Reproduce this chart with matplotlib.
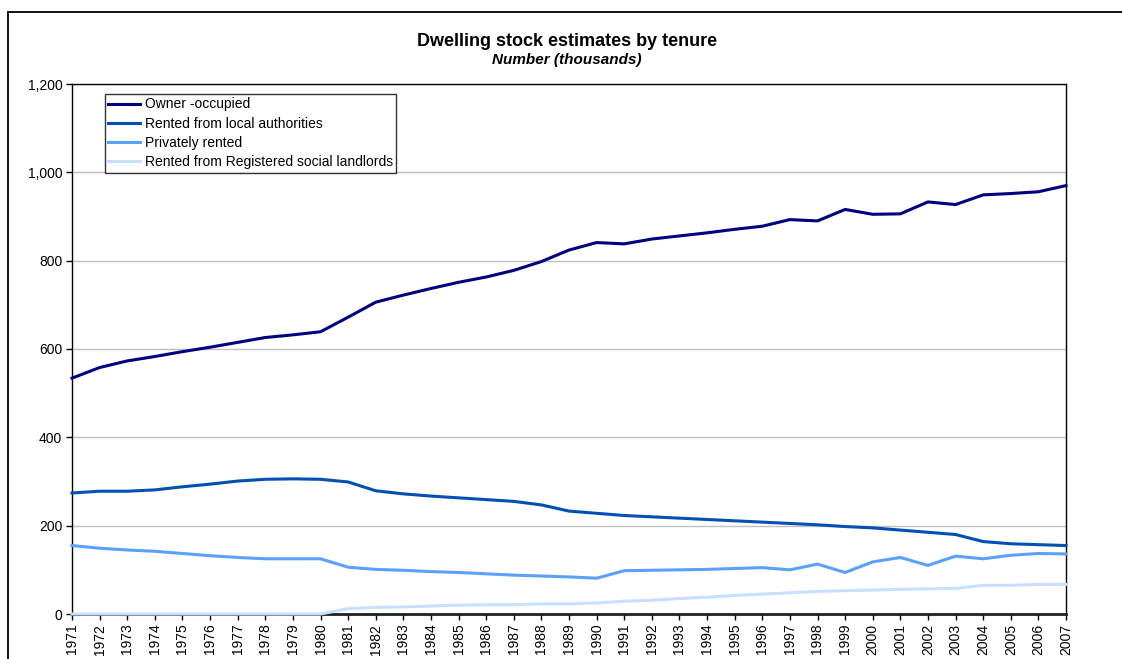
import matplotlib
matplotlib.use("Agg")
import matplotlib.pyplot as plt
from matplotlib.patches import Rectangle
from matplotlib.ticker import FuncFormatter

plt.rcParams['font.family'] = ['Liberation Sans', 'DejaVu Sans']

years = list(range(1971, 2008))

owner = [534, 558, 573, 583, 594, 604, 615, 626, 632, 639,
         672, 706, 722, 737, 751, 763, 778, 798, 824, 841,
         838, 849, 856, 863, 871, 878, 893, 890, 916, 905,
         906, 933, 927, 949, 952, 956, 970]
local_auth = [274, 278, 278, 281, 288, 294, 301, 305, 306, 305,
              299, 279, 272, 267, 263, 259, 255, 247, 233, 228,
              223, 220, 217, 214, 211, 208, 205, 202, 198, 195,
              190, 185, 180, 164, 159, 157, 155]
private = [155, 149, 145, 142, 137, 132, 128, 125, 125, 125,
           106, 101, 99, 96, 94, 91, 88, 86, 84, 81,
           98, 99, 100, 101, 103, 105, 100, 113, 94, 118,
           128, 110, 131, 125, 133, 137, 136]
rsl = [0, 0, 0, 0, 0, 0, 0, 0, 0, 0,
       12, 15, 16, 18, 20, 21, 21, 23, 23, 25,
       29, 31, 35, 38, 42, 45, 48, 51, 53, 54,
       56, 57, 58, 65, 65, 67, 67]

series_names = ["Owner -occupied", "Rented from local authorities",
                "Privately rented", "Rented from Registered social landlords"]
colors = ["#000080", "#0050B4", "#5AA0FF", "#C8E0FF"]

fig = plt.figure(figsize=(11.22, 6.59), dpi=100)
ax = fig.add_axes([72/1122, 45/659, (1066-72)/1122, (614-84)/659])

for vals, name, c in zip([owner, local_auth, private, rsl], series_names, colors):
    ax.plot(years, vals, color=c, lw=2.2, label=name, zorder=3, clip_on=False)

ax.set_xlim(1971, 2007)
ax.set_ylim(0, 1200)
ax.set_yticks(range(0, 1201, 200))
ax.yaxis.set_major_formatter(FuncFormatter(lambda v, p: f"{int(v):,}"))
ax.set_xticks(years)
ax.set_xticklabels([str(y) for y in years], rotation=90)
ax.tick_params(axis='both', labelsize=10, direction='out', length=4, width=1, colors='black')
ax.tick_params(axis='y', pad=3)
ax.tick_params(axis='x', pad=3)
ax.yaxis.grid(True, color='#C0C0C0', lw=1)
ax.set_axisbelow(True)
for s in ['left', 'right', 'top']:
    ax.spines[s].set_color('black')
    ax.spines[s].set_linewidth(1)
ax.spines['bottom'].set_linewidth(2)
ax.spines['bottom'].set_color('#202020')

leg = ax.legend(loc='upper left', bbox_to_anchor=(105/1122, 1 - 94/659),
                bbox_transform=fig.transFigure, fontsize=10, frameon=True,
                fancybox=False, borderpad=0.25, labelspacing=0.38,
                handlelength=2.3, handletextpad=0.3, borderaxespad=0)
leg.get_frame().set_edgecolor('black')
leg.get_frame().set_linewidth(1)
leg.set_zorder(5)

fig.text(567/1122, 1 - 42/659, "Dwelling stock estimates by tenure",
         ha='center', va='center', fontsize=13, fontweight='bold')
fig.text(567/1122, 1 - 60/659, "Number (thousands)",
         ha='center', va='center', fontsize=11, fontweight='bold', style='italic')

# outer chart border (cropped on right and bottom)
fig.patches.append(Rectangle((8/1122, -0.2), 1.2, 1.2 - 12/659,
                             transform=fig.transFigure, fill=False,
                             edgecolor='black', lw=1.3))

fig.savefig("out.png", dpi=100)
